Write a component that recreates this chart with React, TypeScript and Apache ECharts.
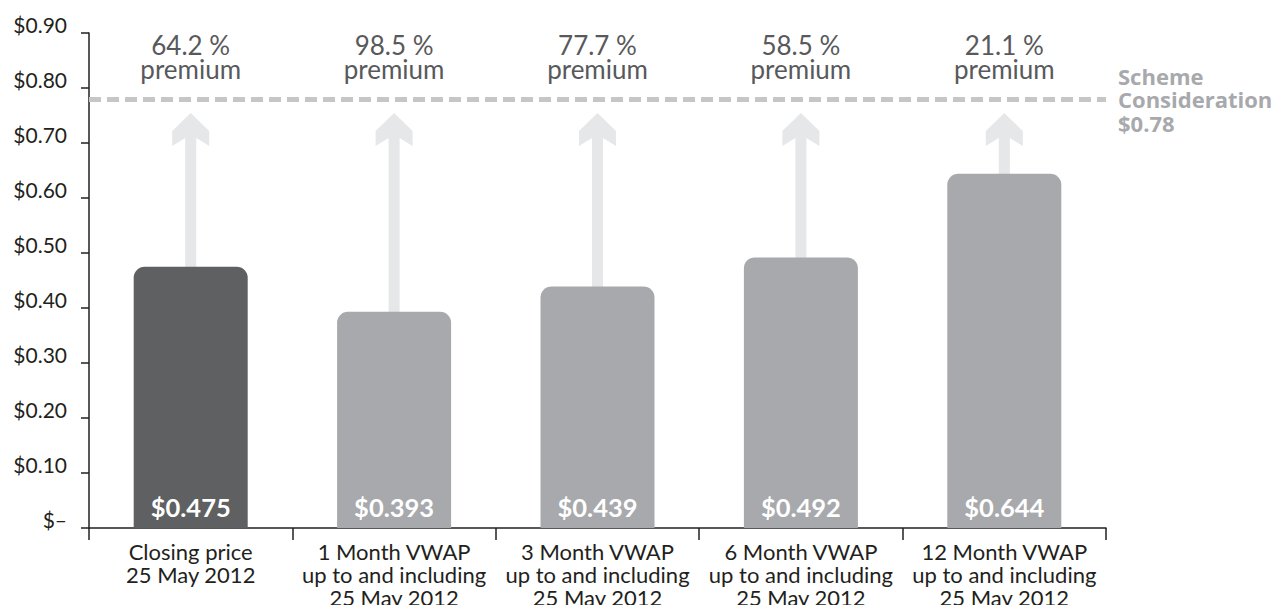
import React, { useEffect, useRef } from "react";
import * as echarts from "echarts";

const categories = [
  "Closing price\n25 May 2012",
  "1 Month VWAP\nup to and including\n25 May 2012",
  "3 Month VWAP\nup to and including\n25 May 2012",
  "6 Month VWAP\nup to and including\n25 May 2012",
  "12 Month VWAP\nup to and including\n25 May 2012",
];
const prices = [0.475, 0.393, 0.439, 0.492, 0.644];
const premiums = ["64.2 %", "98.5 %", "77.7 %", "58.5 %", "21.1 %"];
const schemeConsideration = 0.78;
const yMax = 0.9;
const yInterval = 0.1;

const FONT = "Lato, 'Open Sans', sans-serif";
const BOLD_FONT = "'Open Sans', Lato, sans-serif";

export default function App() {
  const ref = useRef<HTMLDivElement>(null);
  useEffect(() => {
    if (!ref.current) return;
    const chart = echarts.init(ref.current, null, { renderer: "svg" });
    const option: any = {
      animation: false,
      grid: { left: 89, right: 175, top: 33, bottom: 85, containLabel: false },
      xAxis: {
        type: "category",
        data: categories,
        axisLine: { lineStyle: { color: "#231f20", width: 1.5 } },
        axisTick: { show: true, length: 12, alignWithLabel: false, lineStyle: { color: "#231f20", width: 1.5 } },
        axisLabel: {
          color: "#231f20",
          fontSize: 22,
          lineHeight: 23,
          fontFamily: FONT,
          margin: 12,
          interval: 0,
        },
      },
      yAxis: {
        type: "value",
        min: 0,
        max: yMax,
        interval: yInterval,
        splitLine: { show: false },
        axisLine: { show: true, lineStyle: { color: "#231f20", width: 1.5 } },
        axisTick: { show: true, length: 8, lineStyle: { color: "#231f20", width: 1.5 } },
        axisLabel: {
          color: "#231f20",
          fontSize: 21,
          fontFamily: FONT,
          margin: 22,
          verticalAlign: "bottom",
          lineHeight: 17,
          formatter: (v: number) => (v === 0 ? "$–" : "$" + v.toFixed(2)),
        },
      },
      series: [
        {
          type: "custom",
          z: 1,
          data: prices.map((p, i) => [i, p, premiums[i]]),
          renderItem: (params: any, api: any) => {
            const idx = api.value(0);
            const base = api.coord([idx, api.value(1)]);
            const line = api.coord([idx, schemeConsideration]);
            const top = api.coord([idx, yMax]);
            const cx = base[0];
            const tipY = line[1] + 14;
            const hw = 18.5;
            const sw = 5.5;
            const headTop = tipY + 18;
            const headBottom = tipY + 33;
            return {
              type: "group",
              children: [
                {
                  type: "polygon",
                  shape: {
                    points: [
                      [cx, tipY],
                      [cx + hw, headTop],
                      [cx + hw, headBottom],
                      [cx + sw, headBottom - 8],
                      [cx + sw, base[1] + 5],
                      [cx - sw, base[1] + 5],
                      [cx - sw, headBottom - 8],
                      [cx - hw, headBottom],
                      [cx - hw, headTop],
                    ],
                  },
                  style: { fill: "#e6e7e8" },
                },
                {
                  type: "text",
                  style: {
                    text: premiums[params.dataIndex] + "\npremium",
                    x: cx,
                    y: top[1] + 24,
                    align: "center",
                    verticalAlign: "middle",
                    fontSize: 26,
                    lineHeight: 23.5,
                    fontFamily: FONT,
                    fill: "#58595b",
                  },
                },
              ],
            };
          },
        },
        {
          type: "bar",
          z: 2,
          barWidth: 114,
          data: prices.map((p, i) => ({
            value: p,
            itemStyle: { color: i === 0 ? "#5f6062" : "#a7a9ac", borderRadius: [11, 11, 0, 0] },
          })),
          label: {
            show: true,
            position: "insideBottom",
            distance: 8,
            color: "#ffffff",
            fontSize: 25.5,
            fontWeight: "bold",
            fontFamily: FONT,
            formatter: (p: any) => "$" + p.value.toFixed(3),
          },
          markLine: {
            silent: true,
            symbol: "none",
            data: [{ yAxis: schemeConsideration }],
            lineStyle: { color: "#c6c6c6", type: [12, 6], width: 5 },
            label: {
              show: true,
              position: "end",
              distance: 12,
              formatter: "Scheme\nConsideration\n$" + schemeConsideration.toFixed(2),
              color: "#a7a9ac",
              fontSize: 22,
              fontWeight: "bold",
              lineHeight: 23.5,
              fontFamily: BOLD_FONT,
              align: "left",
              padding: [0, 0, 3, 0],
            },
          },
        },
      ],
    };
    chart.setOption(option);
    return () => chart.dispose();
  }, []);
  return <div ref={ref} style={{ width: 1281, height: 613, margin: -8 }} />;
}
